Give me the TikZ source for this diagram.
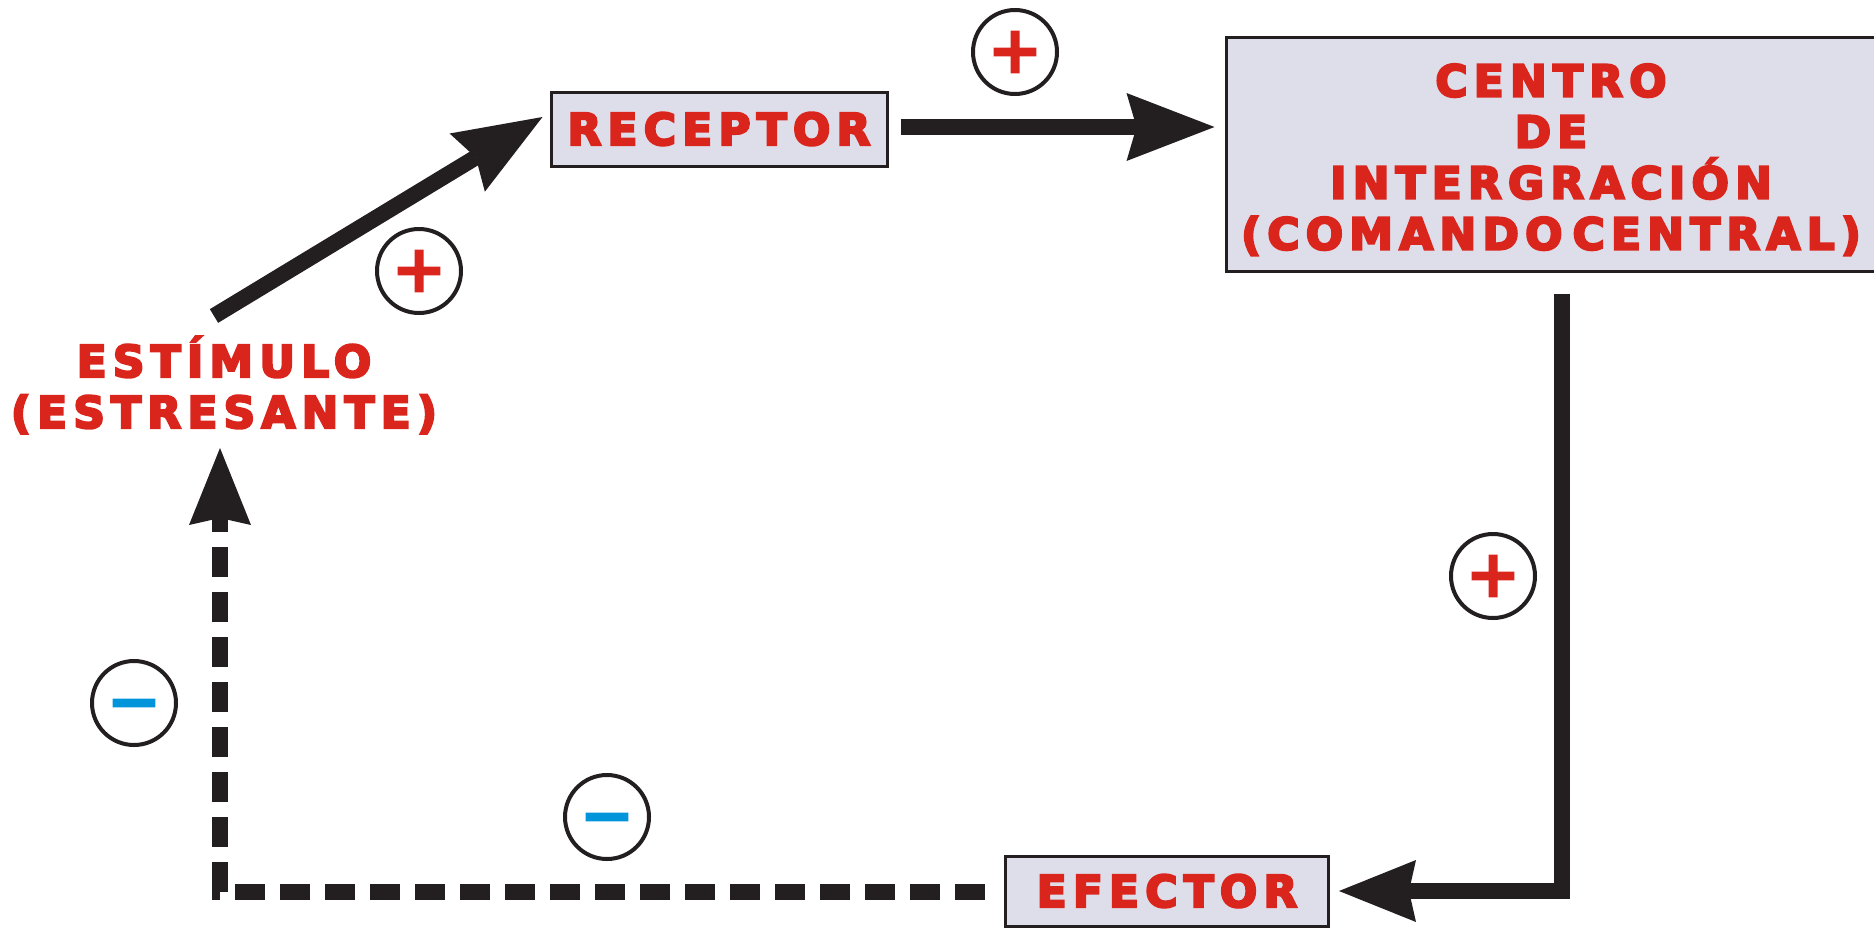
\documentclass[tikz,border=0pt]{standalone}
\usepackage{fontspec}
\setmainfont{DejaVu Sans}
\newfontfamily\lblfont{DejaVu Sans Bold}[FakeBold=5, LetterSpace=14]
\newfontfamily\signfont{DejaVu Sans Bold}[FakeBold=2]
\usetikzlibrary{arrows.meta}
\definecolor{ink}{RGB}{35,31,32}
\definecolor{lblred}{RGB}{218,37,29}
\definecolor{lblblue}{RGB}{0,149,218}
\definecolor{boxfill}{RGB}{222,222,234}
\begin{document}
\begin{tikzpicture}[x=1pt,y=-1pt,
  box/.style={draw=ink, line width=3pt, fill=boxfill, inner sep=0pt, text=lblred,
    font=\lblfont\fontsize{44}{51}\selectfont, align=center},
  lbl/.style={inner sep=0pt, text=lblred,
    font=\lblfont\fontsize{44}{51}\selectfont, align=center},
  link/.style={draw=ink, line width=16pt},
  sign/.style={circle, draw=ink, line width=4pt, minimum size=84pt, inner sep=0pt,
    font=\signfont\fontsize{66}{66}\selectfont},
  plussign/.style={sign, text=lblred},
  minussign/.style={sign, text=lblblue},
  bigtip/.tip={Stealth[length=88pt,width=68pt,inset=10pt,line width=0pt]},
  midtip/.tip={Stealth[length=77pt,width=62pt,inset=7pt,line width=0pt]},
]
\useasboundingbox (0,0) rectangle (1874,927);
\clip (0,0) rectangle (1874,927);

\node[box, minimum width=336pt, minimum height=74pt] (rec) at (719,129) {RECEPTOR};
\node[box, minimum width=650pt, minimum height=234pt] (cen) at (1551,154)
  {\rule{0pt}{44pt}CENTRO\\DE\\INTERGRACIÓN\\(COMANDO\kern10pt CENTRAL)};
\node[box, minimum width=323pt, minimum height=70pt] (eff) at (1167,891) {EFECTOR};
\node[lbl] (stim) at (224,385) {ESTÍMULO\\(ESTRESANTE)};

\draw[link, -{bigtip}] ([shift={(-10,-69)}]stim.center) -- ([shift={(-7,-12)}]rec.west);
\draw[link, -{bigtip}] ([shift={(12,-2)}]rec.east) -- ([shift={(-10,-27)}]cen.west);
\draw[link, -{midtip}] ([shift={(11,21)}]cen.south) |- ([shift={(9,0)}]eff.east);
\draw[link, dash pattern=on 30pt off 15pt, -{midtip}] ([shift={(-19,1)}]eff.west) -| ([shift={(-4,63)}]stim.center);

\node[plussign] (p1) at (419,271) {+};
\node[plussign] (p2) at (1015,52) {+};
\node[plussign] (p3) at (1493,576) {+};
\node[minussign] (m1) at (134,703) {\vphantom{+}−};
\node[minussign] (m2) at (607,817) {\vphantom{+}−};
\end{tikzpicture}
\end{document}
